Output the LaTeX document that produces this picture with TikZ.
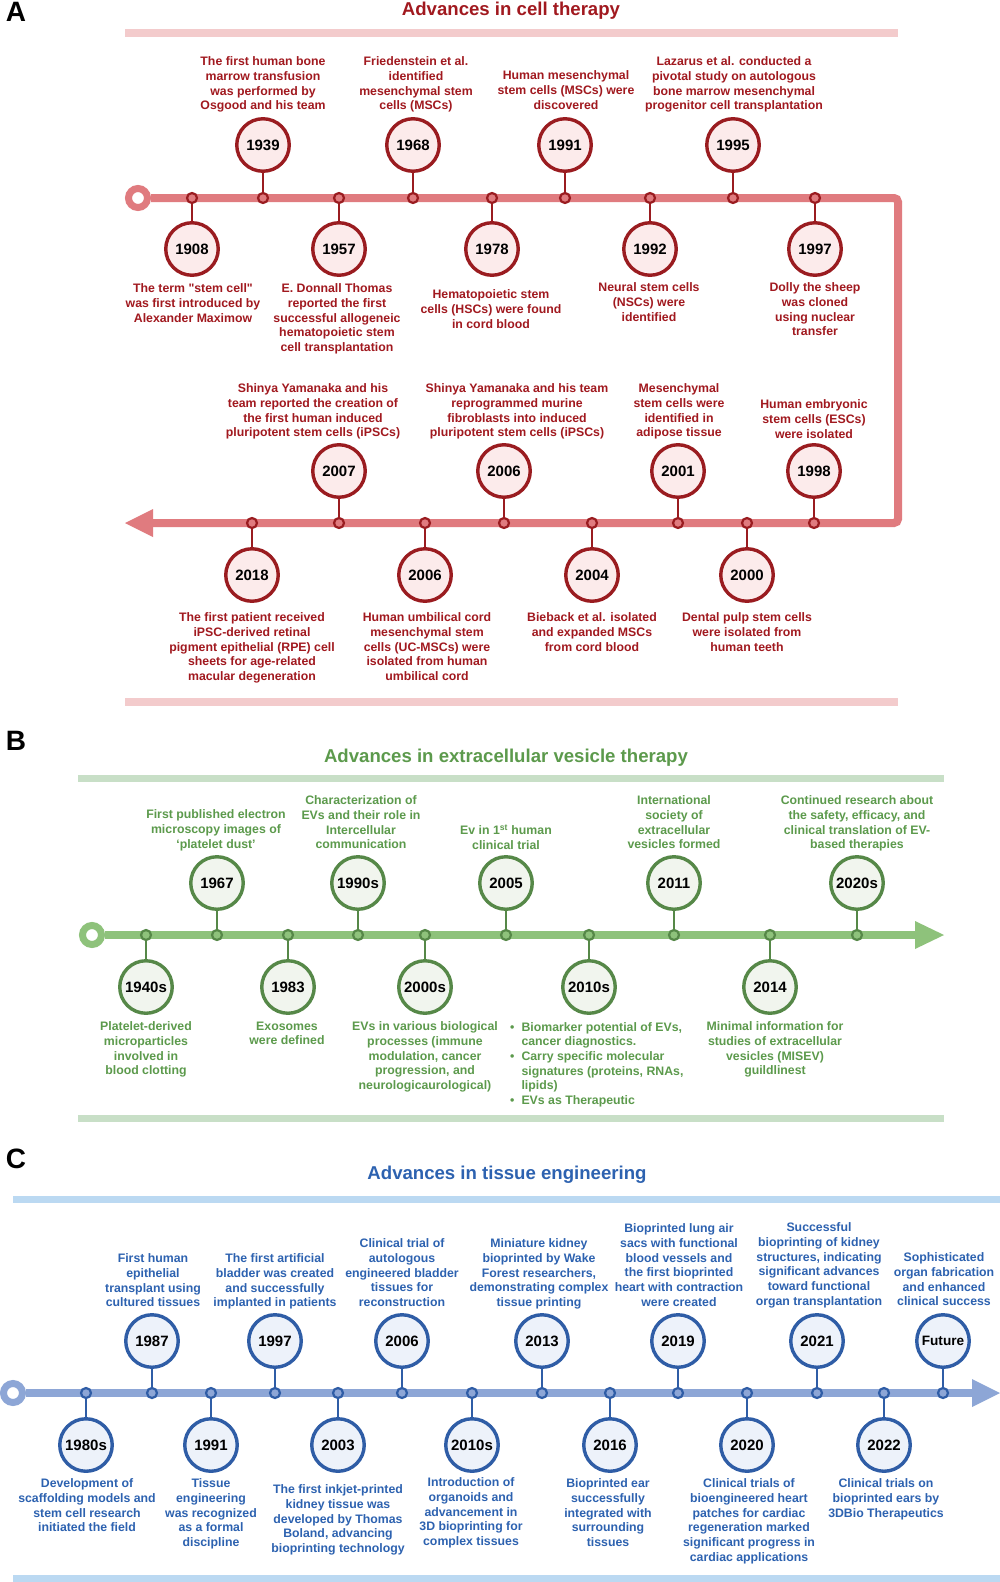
\documentclass[tikz,border=0pt]{standalone}
\usepackage{fontspec}
\setmainfont{Liberation Sans}[Ligatures=TeXOff]
\definecolor{Atext}{HTML}{A1191F}
\definecolor{Adark}{HTML}{9A1C20}
\definecolor{Aline}{HTML}{E07B7F}
\definecolor{Afill}{HTML}{FCEBEB}
\definecolor{Abar}{HTML}{F3CBCC}
\definecolor{Btext}{HTML}{5C9A4C}
\definecolor{Bdark}{HTML}{568848}
\definecolor{Bline}{HTML}{8EC27B}
\definecolor{Bfill}{HTML}{F1F5EE}
\definecolor{Bbar}{HTML}{C8DFC7}
\definecolor{Ctext}{HTML}{2D62B0}
\definecolor{Cdark}{HTML}{2F5DA6}
\definecolor{Cline}{HTML}{8DA6D6}
\definecolor{Cfill}{HTML}{EDF2FA}
\definecolor{Cbar}{HTML}{BBD9F2}
\newcommand\labfont{\fontsize{12.3}{14.7}\selectfont\bfseries}
\newcommand\yrfont{\fontsize{15}{18}\selectfont\bfseries}
\newcommand\ttlfont{\fontsize{18.6}{22}\selectfont\bfseries}
\newcommand\panfont{\fontsize{28}{30}\selectfont\bfseries}
\tikzset{
  evlab/.style={align=center, inner sep=0pt, font=\labfont, text=#1text, anchor=north},
  yc/.style={circle, minimum size=52.5pt, inner sep=0pt, line width=3.4pt, draw=#1dark, fill=#1fill, font=\yrfont, text=black},
  evdot/.style={circle, minimum size=10pt, inner sep=0pt, line width=2.2pt, draw=#1dark, fill=#1line},
  evstem/.style={line width=2.5pt, draw=#1dark},
  tline/.style={line width=8pt, draw=#1line},
  startc/.style={circle, minimum size=19pt, inner sep=0pt, line width=7pt, draw=#1line, fill=white},
  evbar/.style={fill=#1bar, draw=none},
  ttl/.style={font=\ttlfont, text=#1text, inner sep=0pt},
  panlab/.style={font=\panfont, text=black, inner sep=0pt}
}
\newcommand\tlev[6]{%
  \node[evdot=#1] (d#2) at (#3,#4) {};
  \node[yc=#1] (c#2) at (#3,#5) {#6};
  \ifdim #5pt<#4pt
    \draw[evstem=#1] (d#2.north) -- (c#2.south);
  \else
    \draw[evstem=#1] (d#2.south) -- (c#2.north);
  \fi
}
\newcommand\tllab[5]{\node[evlab=#1] (t#2) at (#3,#4-4.5) {#5};}
\begin{document}
\begin{tikzpicture}[x=1pt,y=-1pt]
\useasboundingbox (0,0) rectangle (1000,1582);
\fill[white] (0,0) rectangle (1000,1582);

% ================= PANEL A =================
\node[panlab] (pA) at (16,12) {A};
\node[ttl=A] (ttlA) at (511,11) {Advances in cell therapy};
\fill[evbar=A] (125,29) rectangle (898,37);
\fill[evbar=A] (125,698) rectangle (898,706);
\node[startc=A] (sA) at (138,198) {};
\coordinate (A1) at (898,198);
\coordinate (A2) at (898,523);
\coordinate (A3) at (153,523);
\coordinate (Atip) at (125,523);
\draw[tline=A, rounded corners=4pt] (sA.east) -- (A1) -- (A2) -- (A3);
\fill[Aline] (Atip) -- (153,509) -- (153,537) -- cycle;

\tlev{A}{A1908}{192}{198}{249}{1908}
\tlev{A}{A1939}{263}{198}{145}{1939}
\tlev{A}{A1957}{339}{198}{249}{1957}
\tlev{A}{A1968}{413}{198}{145}{1968}
\tlev{A}{A1978}{492}{198}{249}{1978}
\tlev{A}{A1991}{565}{198}{145}{1991}
\tlev{A}{A1992}{650}{198}{249}{1992}
\tlev{A}{A1995}{733}{198}{145}{1995}
\tlev{A}{A1997}{815}{198}{249}{1997}

\tlev{A}{A2018}{252}{523}{575}{2018}
\tlev{A}{A2007}{339}{523}{471}{2007}
\tlev{A}{A2006b}{425}{523}{575}{2006}
\tlev{A}{A2006t}{504}{523}{471}{2006}
\tlev{A}{A2004}{592}{523}{575}{2004}
\tlev{A}{A2001}{678}{523}{471}{2001}
\tlev{A}{A2000}{747}{523}{575}{2000}
\tlev{A}{A1998}{814}{523}{471}{1998}

\tllab{A}{A1939}{263}{61}{The first human bone\\marrow transfusion\\was performed by\\Osgood and his team}
\tllab{A}{A1968}{416}{61}{Friedenstein et al.\\identified\\mesenchymal stem\\cells (MSCs)}
\tllab{A}{A1991}{566}{75}{Human mesenchymal\\stem cells (MSCs) were\\discovered}
\tllab{A}{A1995}{734}{61}{Lazarus et al. conducted a\\pivotal study on autologous\\bone marrow mesenchymal\\progenitor cell transplantation}
\tllab{A}{A1908}{193}{288}{The term "stem cell"\\was first introduced by\\Alexander Maximow}
\tllab{A}{A1957}{337}{288}{E. Donnall Thomas\\reported the first\\successful allogeneic\\hematopoietic stem\\cell transplantation}
\tllab{A}{A1978}{491}{294}{Hematopoietic stem\\cells (HSCs) were found\\in cord blood}
\tllab{A}{A1992}{649}{287}{Neural stem cells\\(NSCs) were\\identified}
\tllab{A}{A1997}{815}{287}{Dolly the sheep\\was cloned\\using nuclear\\transfer}
\tllab{A}{A2007}{313}{388}{Shinya Yamanaka and his\\team reported the creation of\\the first human induced\\pluripotent stem cells (iPSCs)}
\tllab{A}{A2006t}{517}{388}{Shinya Yamanaka and his team\\reprogrammed murine\\fibroblasts into induced\\pluripotent stem cells (iPSCs)}
\tllab{A}{A2001}{679}{388}{Mesenchymal\\stem cells were\\identified in\\adipose tissue}
\tllab{A}{A1998}{814}{404}{Human embryonic\\stem cells (ESCs)\\were isolated}
\tllab{A}{A2018}{252}{617}{The first patient received\\iPSC-derived retinal\\pigment epithelial (RPE) cell\\sheets for age-related\\macular degeneration}
\tllab{A}{A2006b}{427}{617}{Human umbilical cord\\mesenchymal stem\\cells (UC-MSCs) were\\isolated from human\\umbilical cord}
\tllab{A}{A2004}{592}{617}{Bieback et al. isolated\\and expanded MSCs\\from cord blood}
\tllab{A}{A2000}{747}{617}{Dental pulp stem cells\\were isolated from\\human teeth}

% ================= PANEL B =================
\node[panlab] (pB) at (16,741) {B};
\node[ttl=B] (ttlB) at (506,758) {Advances in extracellular vesicle therapy};
\fill[evbar=B] (78,775) rectangle (944,782);
\fill[evbar=B] (78,1115) rectangle (944,1122);
\node[startc=B] (sB) at (92,935) {};
\coordinate (B1) at (915,935);
\coordinate (Btip) at (944,935);
\draw[tline=B] (sB.east) -- (B1);
\fill[Bline] (Btip) -- (915,921) -- (915,949) -- cycle;

\tlev{B}{B1940s}{146}{935}{987}{1940s}
\tlev{B}{B1967}{217}{935}{883}{1967}
\tlev{B}{B1983}{288}{935}{987}{1983}
\tlev{B}{B1990s}{358}{935}{883}{1990s}
\tlev{B}{B2000s}{425}{935}{987}{2000s}
\tlev{B}{B2005}{506}{935}{883}{2005}
\tlev{B}{B2010s}{589}{935}{987}{2010s}
\tlev{B}{B2011}{674}{935}{883}{2011}
\tlev{B}{B2014}{770}{935}{987}{2014}
\tlev{B}{B2020s}{857}{935}{883}{2020s}

\tllab{B}{B1967}{216}{814}{First published electron\\microscopy images of\\‘platelet dust’}
\tllab{B}{B1990s}{361}{800}{Characterization of\\EVs and their role in\\Intercellular\\communication}
\tllab{B}{B2005}{506}{829}{Ev in 1\textsuperscript{st} human\\clinical trial}
\tllab{B}{B2011}{674}{800}{International\\society of\\extracellular\\vesicles formed}
\tllab{B}{B2020s}{857}{800}{Continued research about\\the safety, efficacy, and\\clinical translation of EV-\\based therapies}
\tllab{B}{B1940s}{146}{1026}{Platelet-derived\\microparticles\\involved in\\blood clotting}
\tllab{B}{B1983}{287}{1026}{Exosomes\\were defined}
\tllab{B}{B2000s}{425}{1026}{EVs in various biological\\processes (immune\\modulation, cancer\\progression, and\\neurologicaurological)}
\tllab{B}{B2014}{775}{1026}{Minimal information for\\studies of extracellular\\vesicles (MISEV)\\guildlinest}
\node[anchor=north west, inner sep=0pt, font=\labfont, text=Btext] (tB2010s) at (510,1020.5) {%
\begin{tabular}{@{}l@{\hspace{7pt}}l@{}}
\textbullet & Biomarker potential of EVs,\\
 & cancer diagnostics.\\
\textbullet & Carry specific molecular\\
 & signatures (proteins, RNAs,\\
 & lipids)\\
\textbullet & EVs as Therapeutic
\end{tabular}};

% ================= PANEL C =================
\node[panlab] (pC) at (16,1159) {C};
\node[ttl=C] (ttlC) at (507,1175) {Advances in tissue engineering};
\fill[evbar=C] (13,1196) rectangle (1000,1203);
\fill[evbar=C] (13,1575) rectangle (1000,1582);
\node[startc=C] (sC) at (13,1393) {};
\coordinate (C1) at (972,1393);
\coordinate (Ctip) at (1000,1393);
\draw[tline=C] (sC.east) -- (C1);
\fill[Cline] (Ctip) -- (972,1379) -- (972,1407) -- cycle;

\tlev{C}{C1980s}{86}{1393}{1445}{1980s}
\tlev{C}{C1987}{152}{1393}{1341}{1987}
\tlev{C}{C1991}{211}{1393}{1445}{1991}
\tlev{C}{C1997}{275}{1393}{1341}{1997}
\tlev{C}{C2003}{338}{1393}{1445}{2003}
\tlev{C}{C2006}{402}{1393}{1341}{2006}
\tlev{C}{C2010s}{472}{1393}{1445}{2010s}
\tlev{C}{C2013}{542}{1393}{1341}{2013}
\tlev{C}{C2016}{610}{1393}{1445}{2016}
\tlev{C}{C2019}{678}{1393}{1341}{2019}
\tlev{C}{C2020}{747}{1393}{1445}{2020}
\tlev{C}{C2021}{817}{1393}{1341}{2021}
\tlev{C}{C2022}{884}{1393}{1445}{2022}
\tlev{C}{CFut}{943}{1393}{1341}{{\fontsize{13.6}{16}\selectfont Future}}

\tllab{C}{C1987}{153}{1258}{First human\\epithelial\\transplant using\\cultured tissues}
\tllab{C}{C1997}{275}{1258}{The first artificial\\bladder was created\\and successfully\\implanted in patients}
\tllab{C}{C2006}{402}{1243}{Clinical trial of\\autologous\\engineered bladder\\tissues for\\reconstruction}
\tllab{C}{C2013}{539}{1243}{Miniature kidney\\bioprinted by Wake\\Forest researchers,\\demonstrating complex\\tissue printing}
\tllab{C}{C2019}{679}{1228}{Bioprinted lung air\\sacs with functional\\blood vessels and\\the first bioprinted\\heart with contraction\\were created}
\tllab{C}{C2021}{819}{1227}{Successful\\bioprinting of kidney\\structures, indicating\\significant advances\\toward functional\\organ transplantation}
\tllab{C}{CFut}{944}{1257}{Sophisticated\\organ fabrication\\and enhanced\\clinical success}
\tllab{C}{C1980s}{87}{1483}{Development of\\scaffolding models and\\stem cell research\\initiated the field}
\tllab{C}{C1991}{211}{1483}{Tissue\\engineering\\was recognized\\as a formal\\discipline}
\tllab{C}{C2003}{338}{1489}{The first inkjet-printed\\kidney tissue was\\developed by Thomas\\Boland, advancing\\bioprinting technology}
\tllab{C}{C2010s}{471}{1482}{Introduction of\\organoids and\\advancement in\\3D bioprinting for\\complex tissues}
\tllab{C}{C2016}{608}{1483}{Bioprinted ear\\successfully\\integrated with\\surrounding\\tissues}
\tllab{C}{C2020}{749}{1483}{Clinical trials of\\bioengineered heart\\patches for cardiac\\regeneration marked\\significant progress in\\cardiac applications}
\tllab{C}{C2022}{886}{1483}{Clinical trials on\\bioprinted ears by\\3DBio Therapeutics}
\end{tikzpicture}
\end{document}
